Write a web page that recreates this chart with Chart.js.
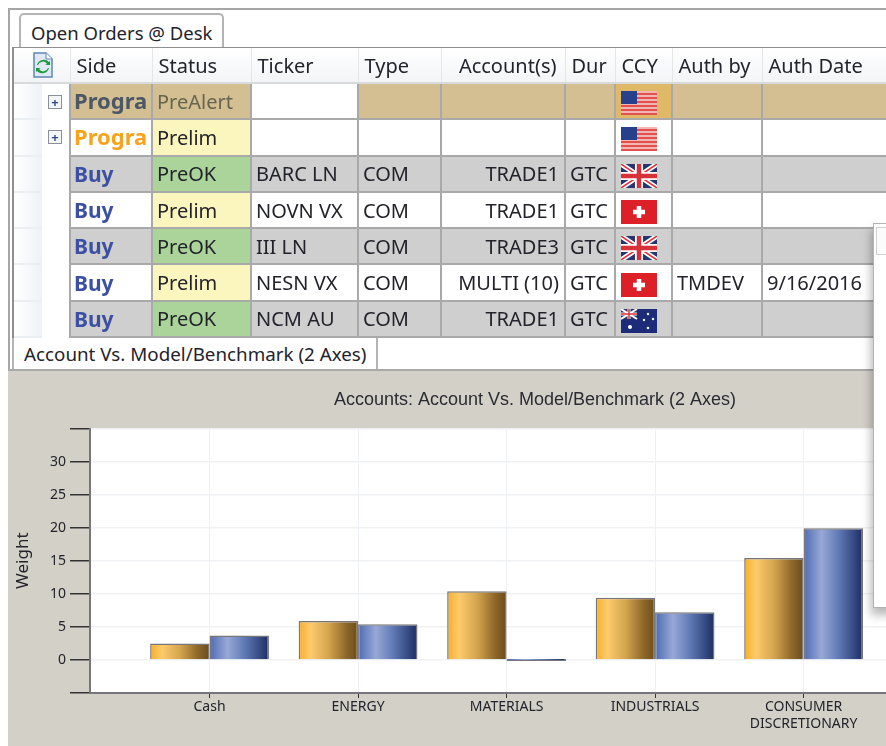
<!DOCTYPE html>
<html>
<head>
<meta charset="utf-8">
<script src="https://cdn.jsdelivr.net/npm/chart.js@4"></script>
<style>
html, body { margin: 0; padding: 0; width: 886px; height: 746px; overflow: hidden; background: #fff; }
#page { position: absolute; left: 0; top: 0; width: 886px; height: 746px; overflow: hidden; filter: blur(0.35px);
  font-family: "Noto Sans", sans-serif; color: #23232b; }
.line { position: absolute; background: #a6a6a6; }
.tab { position: absolute; background: #fff; border: 2px solid #b4b4b4; border-bottom: none; box-sizing: border-box; white-space: nowrap; }
#tab1 { left: 19px; top: 13px; width: 205px; height: 35px; border-radius: 5px 5px 0 0; font-size: 18.5px; line-height: 36px; padding-left: 10px; }
#tab2 { left: 12px; top: 338px; width: 366px; height: 32px; font-size: 18.8px; line-height: 32px; padding-left: 10px; border-top: none; }
#grid { position: absolute; left: 14px; top: 48px; border-collapse: collapse; table-layout: fixed; width: 880px; }
#grid th { height: 35px; padding: 0 0 0 6px; text-align: left; font-weight: 400; font-size: 20px; border-right: 1px solid #e4e6e8;
  border-bottom: 2px solid #d8dadc; background: linear-gradient(#fff, #f2f4f6); box-sizing: border-box; white-space: nowrap; overflow: hidden; }
#grid th.num { text-align: right; padding: 0 8px 0 0; }
#grid td { height: 36.3px; padding: 0 0 0 4px; font-size: 20px; border: 2px solid #a9a9a9; box-sizing: border-box; white-space: nowrap; overflow: hidden; }
#grid td.stub { border: none; border-bottom: 2px solid #eceff2; background: linear-gradient(90deg, #fff, #eef2f6); padding: 0; }
#grid td.exp { border: none; background: #fff; padding: 0 0 0 6px; }
#grid td.side { font-weight: 700; font-size: 21px; padding-left: 3px; }
#grid td.side span { display: inline-block; max-width: 73px; overflow: hidden; vertical-align: middle; position: relative; top: -1px; }
#grid td.side span.long { font-size: 22px; top: -2px; }
#grid td.num { text-align: right; padding-right: 5px; }
#grid td.flag { padding: 4px 0 0 5px; line-height: 0; }
.plus { display: block; width: 12px; height: 12px; border: 1.5px solid #8a8f98; background: #f4f5f7; color: #2d4a8a; font-size: 13px;
  line-height: 12px; text-align: center; font-weight: 700; }
#panel { position: absolute; left: 8px; top: 369px; width: 878px; height: 377px; overflow: hidden; background: #d3d0c8; border-top: 2px solid #a9a9a9; box-sizing: border-box; }
#overlay { position: absolute; left: 873px; top: 223px; width: 30px; height: 385px; background: #fff; border: 1.5px solid #b2b2b2; box-sizing: border-box;
  box-shadow: -2px 7px 9px rgba(0,0,0,0.28); }
#overlay div { position: absolute; left: 2px; top: 3px; width: 30px; height: 26px; border: 1.5px solid #d0d0d0; background: #fbfbfb; }
</style>
</head>
<body>
<div id="page">
  <div class="line" style="left:8px;top:8px;width:878px;height:1.5px"></div>
  <div class="line" style="left:8px;top:8px;width:1.5px;height:361px"></div>
  <div class="line" style="left:12px;top:47px;width:2px;height:291px;background:#8f8f8f"></div>
  <div class="tab" id="tab1">Open Orders @ Desk</div>
  <div class="line" style="left:12px;top:46.5px;width:874px;height:2px;background:#8f8f8f"></div>
  <table id="grid"><colgroup id="cols"></colgroup><thead><tr id="head"></tr></thead><tbody id="rows"></tbody></table>
  <div class="tab" id="tab2">Account Vs. Model/Benchmark (2 Axes)</div>
  <div id="panel"><canvas id="myChart"></canvas></div>
  <div id="overlay"><div></div></div>
</div>
<script>
// grid contents
const columnWidths = [28, 28, 82, 99, 107, 83, 124, 50, 57, 90, 132]
const headers = ['Side', 'Status', 'Ticker', 'Type', 'Account(s)', 'Dur', 'CCY', 'Auth by', 'Auth Date']
const sides = ['Program', 'Program', 'Buy', 'Buy', 'Buy', 'Buy', 'Buy']
const statuses = ['PreAlert', 'Prelim', 'PreOK', 'Prelim', 'PreOK', 'Prelim', 'PreOK']
const tickers = ['', '', 'BARC LN', 'NOVN VX', 'III LN', 'NESN VX', 'NCM AU']
const types = ['', '', 'COM', 'COM', 'COM', 'COM', 'COM']
const accounts = ['', '', 'TRADE1', 'TRADE1', 'TRADE3', 'MULTI (10)', 'TRADE1']
const durations = ['', '', 'GTC', 'GTC', 'GTC', 'GTC', 'GTC']
const currencies = ['us', 'us', 'gb', 'ch', 'gb', 'ch', 'au']
const authBy = ['', '', '', '', '', 'TMDEV', '']
const authDates = ['', '', '', '', '', '9/16/2016', '']

// chart values
const categories = ['Cash', 'ENERGY', 'MATERIALS', 'INDUSTRIALS', 'CONSUMER DISCRETIONARY']
const accountWeights = [2.5, 5.9, 10.4, 9.4, 15.4]
const modelWeights = [3.7, 5.4, 0, 7.2, 19.9]

const TAN = '#d3bf92', GRAY = '#cfcfcf', GREEN = '#abd49b', YELLOW = '#fbf6bd', WHITE = '#fff'

const flagArt = {
    us: '<rect width="36" height="24" fill="#f4b6b0"/>' +
        [0, 4, 8, 12, 16, 20].map(y => `<rect y="${y + 2}" width="36" height="2" fill="#e2504f"/>`).join('') +
        '<rect width="16" height="13" fill="#27408b"/>',
    gb: '<rect width="36" height="24" fill="#27356f"/>' +
        '<path d="M0 0L36 24M36 0L0 24" stroke="#fff" stroke-width="5"/><path d="M0 0L36 24M36 0L0 24" stroke="#d8313a" stroke-width="1.5"/>' +
        '<path d="M18 0V24M0 12H36" stroke="#fff" stroke-width="8"/><path d="M18 0V24M0 12H36" stroke="#d8313a" stroke-width="4.5"/>',
    ch: '<rect width="36" height="24" fill="#dd2027"/><path d="M18 6V18M12 12H24" stroke="#fff" stroke-width="4.5"/>',
    au: '<rect width="36" height="24" fill="#1d2b78"/><rect width="16" height="10" fill="#27356f"/>' +
        '<path d="M0 0L16 10M16 0L0 10" stroke="#fff" stroke-width="2"/><path d="M8 0V10M0 5H16" stroke="#fff" stroke-width="3"/><path d="M8 0V10M0 5H16" stroke="#d8313a" stroke-width="1.5"/>' +
        '<circle cx="9" cy="18" r="2" fill="#fff"/><circle cx="27" cy="5" r="1.2" fill="#dfe"/><circle cx="32" cy="10" r="1.2" fill="#dfe"/><circle cx="27" cy="19" r="1.3" fill="#dfe"/><circle cx="23" cy="11" r="1.2" fill="#dfe"/>'
}
const flagSvg = code => `<svg width="36" height="24" viewBox="0 0 36 24">${flagArt[code]}</svg>`

const refreshIcon = '<svg width="20" height="26" viewBox="0 0 20 26" style="display:block;margin-left:3px">' +
    '<path d="M1 1H13L19 7V25H1Z" fill="#dfeaf6" stroke="#5d86b8" stroke-width="1.5"/><path d="M13 1V7H19" fill="#fff" stroke="#5d86b8"/>' +
    '<path d="M5 13a5 5 0 0 1 9-1l-2 1h5v-4l-1 1a7 7 0 0 0-12 3Z M15 16a5 5 0 0 1-9 1l2-1H3v4l1-1a7 7 0 0 0 12-3Z" fill="#1f9a3a"/></svg>'

document.getElementById('cols').innerHTML = columnWidths.map(w => `<col style="width:${w}px">`).join('')
document.getElementById('head').innerHTML = `<th colspan="2" style="padding-left:16px">${refreshIcon}</th>` +
    headers.map(h => `<th class="${h === 'Account(s)' ? 'num' : ''}">${h}</th>`).join('')

document.getElementById('rows').innerHTML = sides.map((side, i) => {
    const fill = i === 0 ? TAN : i % 2 === 0 ? GRAY : WHITE
    const statusFill = i === 0 ? TAN : statuses[i] === 'PreOK' ? GREEN : YELLOW
    const sideColor = i === 0 ? '#4c5766' : i === 1 ? '#f9a21c' : '#3c50a3'
    const td = (text, bg, cls, extra) => `<td class="${cls || ''}" style="background:${bg};${extra || ''}">${text}</td>`
    return '<tr><td class="stub"></td>' +
        `<td class="exp">${i < 2 ? '<span class="plus">+</span>' : ''}</td>` +
        td(`<span class="${side.length > 3 ? 'long' : ''}">${side}</span>`, fill, 'side', `color:${sideColor}`) +
        td(statuses[i], statusFill, '', i === 0 ? 'color:#66654f' : '') +
        td(tickers[i], i === 0 ? WHITE : fill) +
        td(types[i], fill) +
        td(accounts[i], fill, 'num') +
        td(durations[i], fill) +
        td(flagSvg(currencies[i]), i === 0 ? '#dfb868' : fill, 'flag') +
        td(authBy[i], fill) +
        td(authDates[i], fill) + '</tr>'
}).join('')

// bars have a metallic left-to-right shading
const orangeStops = [[0, '#f8ae28'], [0.2, '#fdcb6c'], [0.5, '#d5a54e'], [0.8, '#8f6829'], [1, '#6b4c1d']]
const blueStops = [[0, '#4d6bb4'], [0.3, '#98a8d6'], [0.6, '#5e78b4'], [1, '#1c2c63']]

function barShade(stops, side) {
    return ctx => {
        if (ctx.dataIndex === undefined) return stops[0][1]
        const x = ctx.chart.scales.x
        const centre = x.getPixelForValue(ctx.dataIndex)
        const w = (x.getPixelForValue(1) - x.getPixelForValue(0)) * 0.4
        //scales have no size yet on the first pass
        if (!isFinite(centre) || !isFinite(w)) return stops[0][1]
        const start = side < 0 ? centre - w : centre
        const g = ctx.chart.ctx.createLinearGradient(start, 0, start + w, 0)
        stops.forEach(s => g.addColorStop(s[0], s[1]))
        return g
    }
}

const plotWhite = {
    id: 'plotWhite',
    beforeDraw(chart) {
        const a = chart.chartArea
        chart.ctx.fillStyle = '#fff'
        chart.ctx.fillRect(a.left, a.top, a.width, a.height)
    }
}

const canvas = document.getElementById('myChart')
canvas.width = 1054
canvas.height = 375

new Chart(canvas, {
    type: 'bar',
    plugins: [plotWhite],
    data: {
        datasets: [
            {
                label: 'Account',
                data: accountWeights.map((v, i) => ({x: i, y: v})),
                backgroundColor: barShade(orangeStops, -1)
            },
            {
                label: 'Model/Benchmark',
                data: modelWeights.map((v, i) => ({x: i, y: v})),
                backgroundColor: barShade(blueStops, 1)
            }
        ]
    },
    options: {
        responsive: false,
        animation: false,
        layout: {padding: 0},
        // 0.8 category width split between two touching bars
        datasets: {bar: {categoryPercentage: 0.8, barPercentage: 1, borderColor: '#77767a', borderWidth: 1.5, minBarLength: 2}},
        plugins: {
            legend: {display: false},
            tooltip: {enabled: false},
            title: {
                display: true,
                text: 'Accounts: Account Vs. Model/Benchmark (2 Axes)',
                color: '#2b2b33',
                font: {family: '"Liberation Sans"', size: 18, weight: 'normal'},
                padding: {top: 18, bottom: 17.9}
            }
        },
        scales: {
            x: {
                type: 'linear',
                offset: false,
                min: -0.805,
                max: 5.74,
                afterBuildTicks: axis => { axis.ticks = categories.map((c, i) => ({value: i})) },
                afterFit: axis => { axis.height = 53 },
                border: {color: '#77767a', width: 2},
                grid: {offset: false, color: '#eef1f5', lineWidth: 1, tickColor: '#333', tickLength: 5},
                ticks: {
                    autoSkip: false,
                    maxRotation: 0,
                    padding: 1,
                    color: '#23232b',
                    font: {family: '"Noto Sans"', size: 14},
                    callback: value => categories[value].split(' ')
                }
            },
            y: {
                min: -5,
                max: 35,
                afterFit: axis => { axis.width = 82 },
                title: {display: true, text: 'Weight', color: '#23232b', font: {family: '"Noto Sans"', size: 17}, padding: {top: 5, bottom: 0}},
                border: {color: '#77767a', width: 2},
                grid: {color: '#eff1f3', lineWidth: 1.5, tickColor: '#333', tickWidth: 1.5, tickLength: 20},
                ticks: {
                    stepSize: 5,
                    padding: 4,
                    color: '#23232b',
                    font: {family: '"Noto Sans"', size: 14},
                    callback: value => (value < 0 || value > 30) ? '' : value
                }
            }
        }
    }
})
</script>
</body>
</html>
